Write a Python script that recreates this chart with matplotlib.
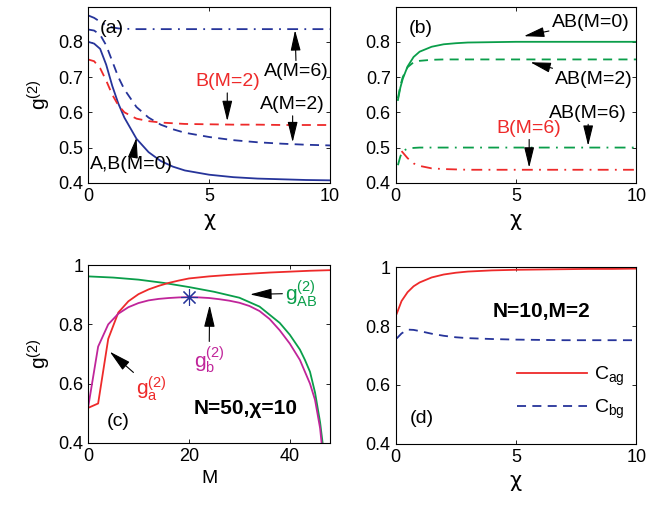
import matplotlib
matplotlib.use('Agg')
import matplotlib.pyplot as plt
import numpy as np

plt.rcParams['font.family'] = ['Liberation Sans', 'DejaVu Sans']
plt.rcParams['mathtext.fontset'] = 'custom'
plt.rcParams['mathtext.rm'] = 'Liberation Sans'
plt.rcParams['mathtext.it'] = 'Liberation Sans:italic'
plt.rcParams['font.size'] = 14

# ---------------- data ----------------

# panel (a)
chi_a = [0, 0.25, 0.5, 0.75, 1.0, 1.25, 1.5, 2, 2.5, 3, 3.5, 4, 5, 6, 7, 8, 9, 10]
a_m0 = [0.800, 0.795, 0.780, 0.735, 0.675, 0.625, 0.585, 0.525, 0.487, 0.462, 0.446, 0.435,
        0.423, 0.416, 0.412, 0.410, 0.408, 0.407]
a_m2 = [0.835, 0.832, 0.820, 0.790, 0.745, 0.700, 0.665, 0.615, 0.585, 0.565, 0.552, 0.542,
        0.530, 0.521, 0.515, 0.511, 0.508, 0.506]
b_m2 = [0.750, 0.745, 0.725, 0.690, 0.650, 0.620, 0.600, 0.582, 0.575, 0.571, 0.569, 0.567,
        0.566, 0.565, 0.565, 0.564, 0.564, 0.564]
a_m6 = [0.875, 0.868, 0.857, 0.847, 0.841, 0.838, 0.837, 0.836, 0.836, 0.836, 0.836, 0.836,
        0.836, 0.836, 0.836, 0.836, 0.836, 0.836]

# panel (b)
chi_b = [0.1, 0.2, 0.3, 0.5, 0.75, 1, 1.5, 2, 2.5, 3, 4, 5, 6, 7, 8, 9, 10]
ab_m0 = [0.635, 0.670, 0.695, 0.730, 0.757, 0.772, 0.786, 0.793, 0.796, 0.798, 0.799, 0.800,
         0.800, 0.800, 0.800, 0.800, 0.800]
ab_m2 = [0.640, 0.675, 0.700, 0.728, 0.742, 0.746, 0.749, 0.750, 0.750, 0.750, 0.750, 0.750,
         0.750, 0.750, 0.750, 0.750, 0.750]
ab_m6 = [0.450, 0.475, 0.490, 0.497, 0.499, 0.500, 0.500, 0.500, 0.500, 0.500, 0.500, 0.500,
         0.500, 0.500, 0.500, 0.500, 0.500]
chi_b6 = [0.25, 0.5, 0.75, 1, 1.5, 2, 3, 4, 5, 6, 7, 8, 9, 10]
bb_m6 = [0.490, 0.470, 0.455, 0.448, 0.441, 0.439, 0.437, 0.437, 0.437, 0.437, 0.437, 0.437,
         0.437, 0.437]

# panel (c)
M_a = [0, 2, 4, 6, 8, 10, 12, 14, 16, 18, 20, 24, 28, 32, 36, 40, 44, 48]
ga = [0.518, 0.533, 0.751, 0.840, 0.878, 0.902, 0.918, 0.930, 0.940, 0.948, 0.955, 0.962,
      0.967, 0.971, 0.975, 0.978, 0.981, 0.983]
M_b = [0, 2, 4, 6, 8, 10, 12, 14, 16, 18, 20, 22, 24, 26, 28, 30, 32, 34, 36, 38, 40, 42,
       44, 45, 46, 46.3]
gb = [0.518, 0.725, 0.800, 0.836, 0.858, 0.872, 0.881, 0.886, 0.889, 0.891, 0.892, 0.891,
      0.889, 0.885, 0.880, 0.873, 0.862, 0.845, 0.818, 0.780, 0.735, 0.680, 0.600, 0.545,
      0.450, 0.400]
M_ab = [0, 5, 10, 15, 20, 25, 30, 34, 38, 40, 42, 43, 44, 45, 46, 46.5]
gab = [0.962, 0.958, 0.951, 0.940, 0.926, 0.910, 0.890, 0.860, 0.805, 0.765, 0.715, 0.680,
       0.640, 0.570, 0.470, 0.400]
star_M, star_g = 20, 0.892

# panel (d)
chi_d = [0.05, 0.25, 0.5, 0.75, 1, 1.5, 2, 2.5, 3, 4, 5, 6, 7, 8, 9, 10]
Cag = [0.842, 0.885, 0.915, 0.935, 0.948, 0.965, 0.975, 0.981, 0.985, 0.989, 0.991, 0.992,
       0.993, 0.994, 0.994, 0.995]
Cbg = [0.758, 0.775, 0.788, 0.787, 0.783, 0.774, 0.767, 0.762, 0.759, 0.756, 0.754, 0.753,
       0.752, 0.752, 0.752, 0.752]

# ---------------- styling ----------------
blue = '#26349a'
red = '#ee2a2a'
green = '#0a9e4a'
magenta = '#c0259a'
lw = 1.3
dashed = (0, (5, 3.5))
dashdot = (0, (6, 3.5, 1, 3.5))
arrow = dict(arrowstyle='-|>,head_length=0.9,head_width=0.22', color='k', lw=0.8,
             shrinkA=0, shrinkB=0)
chi_font = dict(family=['DejaVu Sans'], fontsize=15)

fig = plt.figure(figsize=(6.67, 5.05), dpi=100)
ax_a = fig.add_axes([0.132, 0.638, 0.363, 0.349])
ax_b = fig.add_axes([0.593, 0.638, 0.361, 0.349])
ax_c = fig.add_axes([0.132, 0.123, 0.363, 0.352])
ax_d = fig.add_axes([0.593, 0.121, 0.361, 0.350])

for ax in (ax_a, ax_b, ax_c, ax_d):
    ax.tick_params(direction='in', top=True, right=True, length=3, width=0.6, labelsize=13)
    for s in ax.spines.values():
        s.set_linewidth(0.8)

# ---------------- (a) ----------------
ax_a.plot(chi_a, a_m0, color=blue, lw=lw)
ax_a.plot(chi_a, a_m2, color=blue, lw=lw, linestyle=dashed)
ax_a.plot(chi_a, b_m2, color=red, lw=lw, linestyle=dashed)
ax_a.plot(chi_a, a_m6, color=blue, lw=lw, linestyle=dashdot)
ax_a.set_xlim(0, 10)
ax_a.set_ylim(0.4, 0.9)
ax_a.set_xticks([0, 5, 10])
ax_a.set_yticks([0.4, 0.5, 0.6, 0.7, 0.8])
ax_a.set_xlabel('χ', **chi_font)
ax_a.set_ylabel('g$^{(2)}$', fontsize=15)
ax_a.text(1.0, 0.838, '(a)', ha='center', va='center')
ax_a.annotate('A(M=6)', xy=(8.55, 0.833), xytext=(8.6, 0.715), ha='center', va='center',
              arrowprops=arrow)
ax_a.annotate('B(M=2)', xy=(5.75, 0.575), xytext=(5.75, 0.687), ha='center', va='center',
              color=red, arrowprops=arrow)
ax_a.annotate('A(M=2)', xy=(8.45, 0.515), xytext=(8.45, 0.622), ha='center', va='center',
              arrowprops=arrow)
ax_a.annotate('A,B(M=0)', xy=(2.0, 0.528), xytext=(1.8, 0.451), ha='center', va='center',
              arrowprops=arrow)

# ---------------- (b) ----------------
ax_b.plot(chi_b, ab_m0, color=green, lw=lw)
ax_b.plot(chi_b, ab_m2, color=green, lw=lw, linestyle=dashed)
ax_b.plot(chi_b, ab_m6, color=green, lw=lw, linestyle=dashdot)
ax_b.plot(chi_b6, bb_m6, color=red, lw=lw, linestyle=dashdot)
ax_b.set_xlim(0, 10)
ax_b.set_ylim(0.4, 0.9)
ax_b.set_xticks([0, 5, 10])
ax_b.set_yticks([0.4, 0.5, 0.6, 0.7, 0.8])
ax_b.set_xlabel('χ', **chi_font)
ax_b.text(1.04, 0.837, '(b)', ha='center', va='center')
ax_b.annotate('AB(M=0)', xy=(5.33, 0.816), xytext=(8.1, 0.855), ha='center', va='center',
              arrowprops=arrow)
ax_b.annotate('AB(M=2)', xy=(5.6, 0.742), xytext=(8.25, 0.693), ha='center', va='center',
              arrowprops=arrow)
ax_b.annotate('AB(M=6)', xy=(8.0, 0.505), xytext=(8.0, 0.598), ha='center', va='center',
              arrowprops=arrow)
ax_b.annotate('B(M=6)', xy=(5.55, 0.443), xytext=(5.55, 0.555), ha='center', va='center',
              color=red, arrowprops=arrow)

# ---------------- (c) ----------------
ax_c.plot(M_ab, gab, color=green, lw=lw)
ax_c.plot(M_a, ga, color=red, lw=lw)
ax_c.plot(M_b, gb, color=magenta, lw=lw)
ax_c.plot([star_M], [star_g], marker=(8, 2, 0), color=blue, markersize=12,
          markeredgewidth=0.8, linestyle='none')
ax_c.set_xlim(0, 48)
ax_c.set_ylim(0.4, 1.0)
ax_c.set_xticks([0, 20, 40])
ax_c.set_yticks([0.4, 0.6, 0.8, 1.0])
ax_c.set_yticklabels(['0.4', '0.6', '0.8', '1'])
ax_c.set_xlabel('M', fontsize=14)
ax_c.set_ylabel('g$^{(2)}$', fontsize=15)
ax_c.text(6.0, 0.472, '(c)', ha='center', va='center')
ax_c.text(31.2, 0.517, 'N=50,χ=10', ha='center', va='center', fontsize=15, fontweight='bold')
ax_c.annotate('g$_{\\rm AB}^{(2)}$', xy=(32.1, 0.901), xytext=(42.3, 0.905), ha='center',
              va='center', fontsize=15, color=green, arrowprops=arrow)
ax_c.annotate('g$_{\\rm b}^{(2)}$', xy=(24.1, 0.865), xytext=(24.0, 0.68), ha='center',
              va='center', fontsize=15, color=magenta, arrowprops=arrow)
ax_c.annotate('g$_{\\rm a}^{(2)}$', xy=(4.3, 0.708), xytext=(12.6, 0.584), ha='center',
              va='center', fontsize=15, color=red, arrowprops=arrow)

# ---------------- (d) ----------------
ax_d.plot(chi_d, Cag, color=red, lw=lw, label='C$_{\\rm ag}$')
ax_d.plot(chi_d, Cbg, color=blue, lw=lw, linestyle=dashed, label='C$_{\\rm bg}$')
ax_d.set_xlim(0, 10)
ax_d.set_ylim(0.4, 1.0)
ax_d.set_xticks([0, 5, 10])
ax_d.set_yticks([0.4, 0.6, 0.8, 1.0])
ax_d.set_yticklabels(['0.4', '0.6', '0.8', '1'])
ax_d.set_xlabel('χ', **chi_font)
ax_d.text(1.08, 0.487, '(d)', ha='center', va='center')
ax_d.text(6.07, 0.849, 'N=10,M=2', ha='center', va='center', fontsize=15, fontweight='bold')
ax_d.legend(loc='center left', bbox_to_anchor=(0.43, 0.29), frameon=False, fontsize=14,
            handlelength=3.6, handletextpad=0.4, labelspacing=0.5)

fig.savefig('out.png', dpi=100)
